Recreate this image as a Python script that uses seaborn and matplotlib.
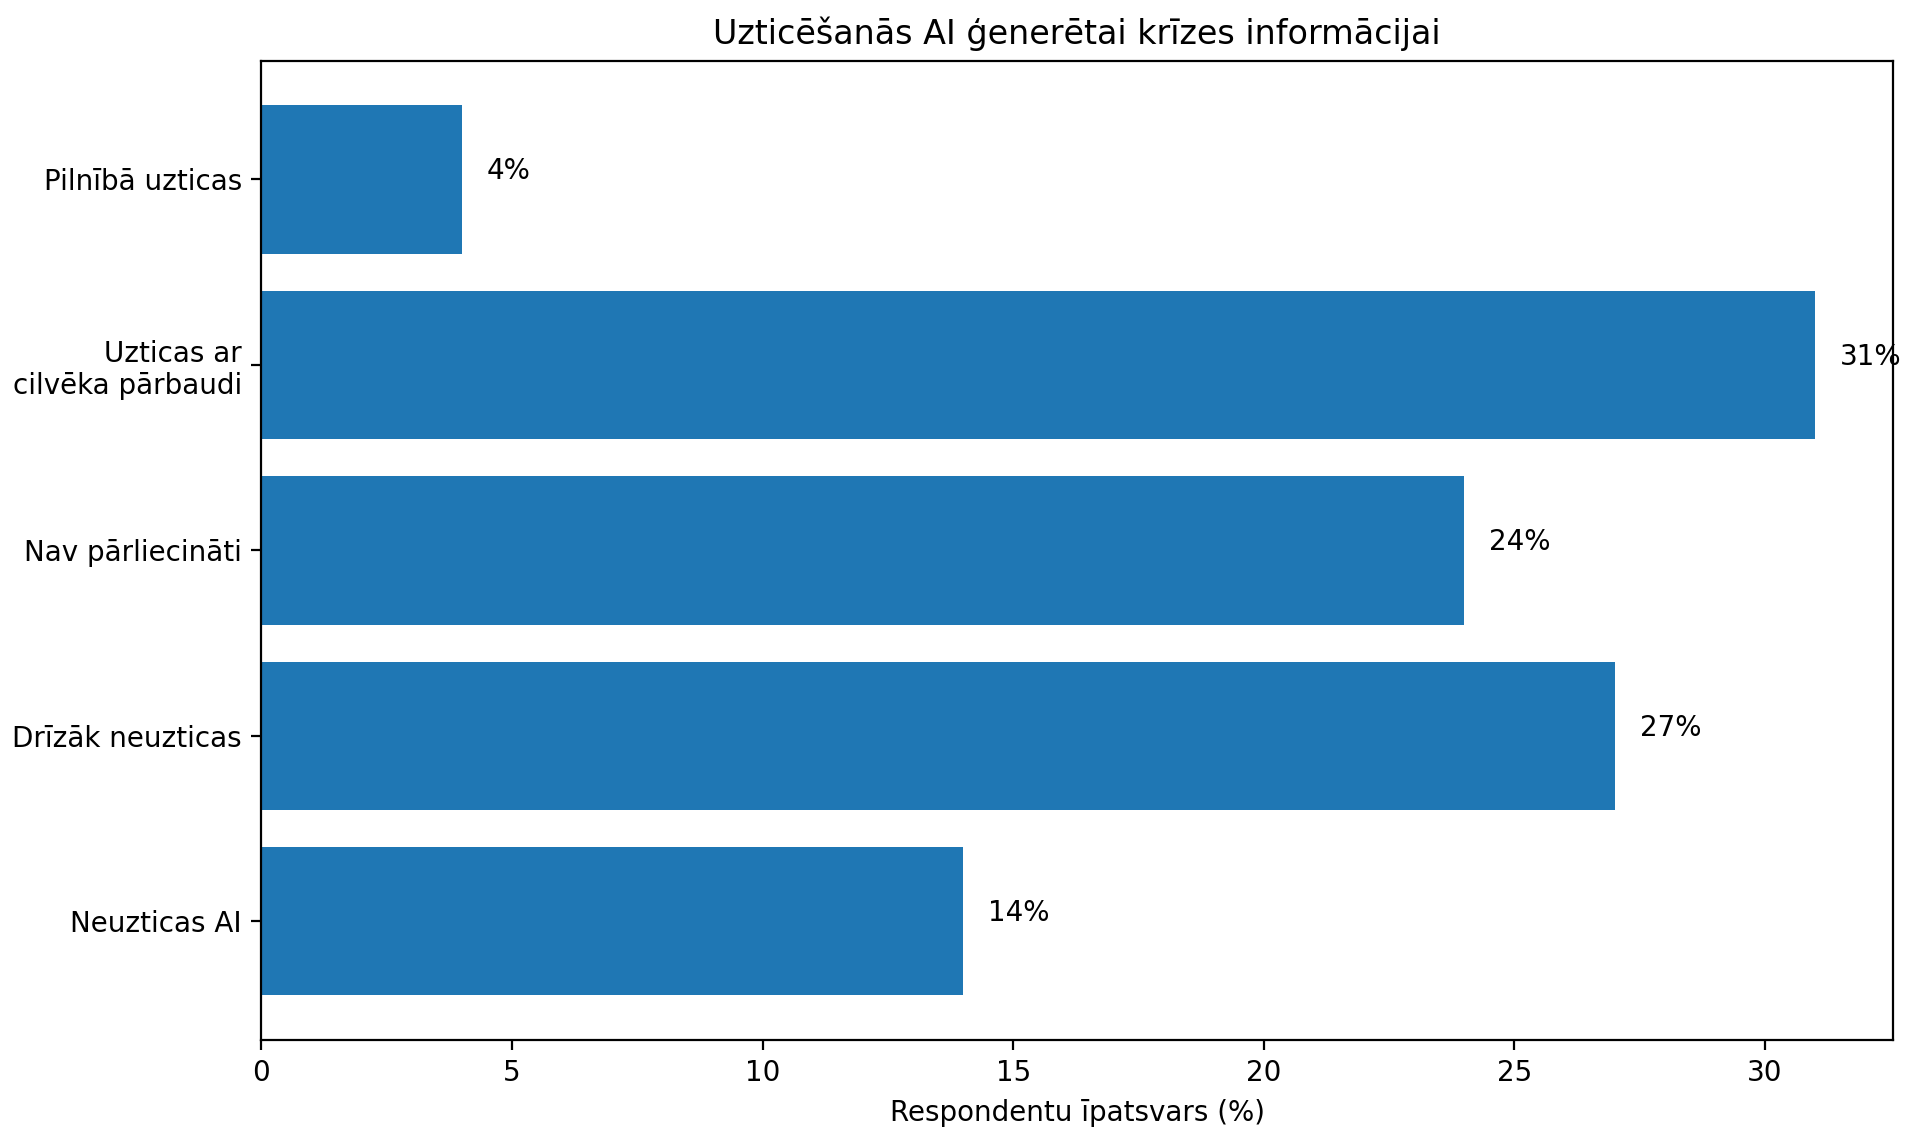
import matplotlib
matplotlib.use("Agg")
import matplotlib.pyplot as plt
import seaborn as sns
import pandas as pd

categories = [
    "Pilnībā uzticas",
    "Uzticas ar\ncilvēka pārbaudi",
    "Nav pārliecināti",
    "Drīzāk neuzticas",
    "Neuzticas AI",
]
shares = [4, 31, 24, 27, 14]

df = pd.DataFrame({"category": categories, "share": shares})

fig, ax = plt.subplots(figsize=(9.595, 5.72), dpi=200)
fig.subplots_adjust(left=0.1362, right=0.9863, top=0.947, bottom=0.0909)

sns.barplot(
    data=df, y="category", x="share", order=categories,
    color="#1f77b4", saturation=1, width=0.8, linewidth=0, ax=ax,
)

for i, v in enumerate(shares):
    ax.text(v + 0.5, i, f"{v}%", fontsize=10)

ax.set_xlim(0, 32.55)
ax.set_ylim(4.64, -0.64)
ax.set_title("Uzticēšanās AI ģenerētai krīzes informācijai", fontsize=12)
ax.set_xlabel("Respondentu īpatsvars (%)")
ax.set_ylabel("")

fig.savefig("out.png", dpi=200)
plt.close(fig)
